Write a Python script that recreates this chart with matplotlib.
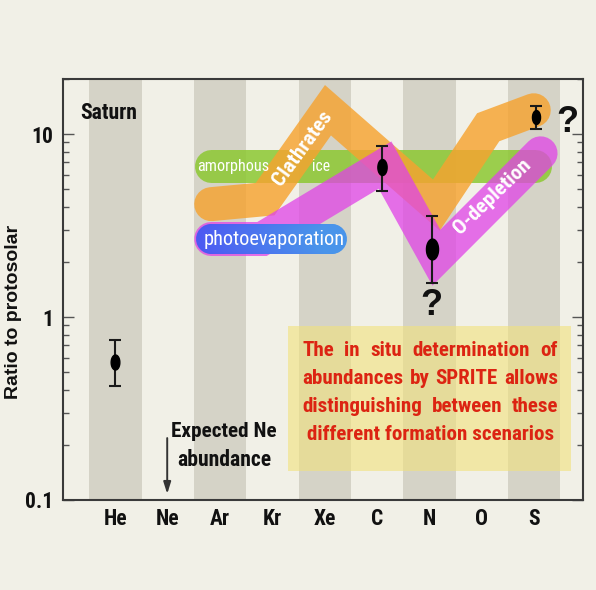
import os
import numpy as np
import matplotlib
matplotlib.use("Agg")
import matplotlib.pyplot as plt
from matplotlib import font_manager
from matplotlib.font_manager import FontProperties
from matplotlib.path import Path
from matplotlib.patches import Rectangle
from matplotlib.collections import LineCollection
from matplotlib.transforms import IdentityTransform
from matplotlib.ticker import LogLocator, NullFormatter

elements = ["He", "Ne", "Ar", "Kr", "Xe", "C", "N", "O", "S"]

# Saturn measurements (ratio to protosolar) with lower / upper bounds
meas_pos = [0.0, 5.09, 6.04, 8.03]
meas_val = [0.57, 6.6, 2.34, 12.4]
meas_low = [0.42, 4.9, 1.54, 10.6]
meas_high = [0.75, 8.6, 3.56, 14.3]
meas_size = [10.8, 11.5, 15.0, 10.0]

# formation scenarios
amorphous_pos = [1.83, 8.02]
amorphous_val = [6.68, 6.68]
clathrate_pos = [1.83, 2.86, 4.06, 6.13, 7.12, 7.99]
clathrate_val = [4.14, 4.41, 13.5, 4.09, 10.9, 13.5]
odepletion_pos = [1.83, 2.8, 5.15, 6.13, 8.12]
odepletion_val = [2.67, 2.67, 6.77, 2.11, 7.85]
photoevap_pos = [1.83, 4.14]
photoevap_val = [2.67, 2.67]

y_ticks = [0.1, 1, 10]
y_tick_labels = ["0.1", "1", "10"]

note_lines = [
    "The in situ determination of",
    "abundances by SPRITE allows",
    "distinguishing between these",
    "different formation scenarios",
]


def find_font_file(names, keywords):
    files = sorted({f.fname for f in font_manager.fontManager.ttflist})
    base = {os.path.basename(f).lower(): f for f in files}
    for n in names:
        if n.lower() in base:
            return base[n.lower()]
    for f in files:
        b = os.path.basename(f).lower()
        if all(k in b for k in keywords[0]) and not any(k in b for k in keywords[1]):
            return f
    return None


NARROW_BOLD = find_font_file(
    ["LiberationSansNarrow-Bold.ttf", "ArialNarrowBold.ttf",
     "NotoSans-CondensedBold.ttf", "RobotoCondensed-Bold.ttf",
     "DejaVuSansCondensed-Bold.ttf", "OpenSans-CondBold.ttf"],
    (["condensedbold"], ["italic", "extra", "semi"]))
NARROW_REG = find_font_file(
    ["LiberationSansNarrow-Regular.ttf", "ArialNarrow.ttf",
     "NotoSans-Condensed.ttf", "RobotoCondensed-Regular.ttf",
     "DejaVuSansCondensed.ttf"],
    (["condensed"], ["italic", "bold", "extra", "semi", "light", "thin",
                     "medium", "black"]))


def narrow(bold=True):
    path = NARROW_BOLD if bold else NARROW_REG
    if path:
        return FontProperties(fname=path)
    return FontProperties(family=["Liberation Sans", "DejaVu Sans"],
                          weight="bold" if bold else "normal")


BG = "#f1f0e7"
BAND = "#d5d3c7"
INK = "#111111"
PX = 72 / 100  # points per pixel at 100 dpi

fig = plt.figure(figsize=(5.96, 5.90), dpi=100, facecolor=BG)
ax = fig.add_axes([63 / 596, 90 / 590, 520 / 596, 421 / 590])
ax.set_facecolor(BG)
ax.set_yscale("log")
ax.set_xlim(-1, 8.93)
ax.set_ylim(0.1, 20)
renderer = fig.canvas.get_renderer()


def fit_width(txt, width_px, rotation=0):
    """Scale a label's font so its unrotated width spans width_px pixels."""
    w = txt.get_window_extent(renderer).width
    if w > 0:
        txt.set_fontsize(txt.get_fontsize() * width_px / w)
    if rotation:
        txt.set_rotation(rotation)
    return txt


# alternating element columns
for i in range(0, len(elements), 2):
    ax.axvspan(i - 0.5, i + 0.5, color=BAND, lw=0, zorder=0)

# scenario bands
band_kw = dict(solid_capstyle="round", solid_joinstyle="miter")
ax.plot(amorphous_pos, amorphous_val, color="#8cc832", alpha=0.85,
        lw=33 * PX, zorder=2, **band_kw)
ax.plot(clathrate_pos, clathrate_val, color="#f6a330", alpha=0.82,
        lw=34 * PX, zorder=3, **band_kw)
ax.plot(odepletion_pos, odepletion_val, color="#e043e7", alpha=0.75,
        lw=34 * PX, zorder=4, **band_kw)

# photoevaporation band with a blue gradient
n_seg = 80
xs = np.linspace(photoevap_pos[0], photoevap_pos[1], n_seg + 1)
ys = np.interp(xs, photoevap_pos, photoevap_val)
segs = [[(xs[k], ys[k]), (xs[k + 1], ys[k + 1])] for k in range(n_seg)]
c0 = np.array(matplotlib.colors.to_rgb("#4d5af2"))
c1 = np.array(matplotlib.colors.to_rgb("#4994ea"))
t = np.linspace(0, 1, n_seg)[:, None]
cols = c0 * (1 - t) + c1 * t
lc = LineCollection(segs, colors=cols, linewidths=30 * PX, capstyle="round",
                    zorder=5)
ax.add_collection(lc)

# band labels
fit_width(ax.text(1.57, amorphous_val[0], "amorphous", ha="left", va="center",
                  color="white", fontproperties=narrow(False), fontsize=13,
                  zorder=7), 72)
fit_width(ax.text(3.93, amorphous_val[0], "ice", ha="center", va="center",
                  color="white", fontproperties=narrow(False), fontsize=13,
                  zorder=7), 18)
fit_width(ax.text(3.57, 8.4, "Clathrates", ha="center", va="center",
                  color="white", fontproperties=narrow(True), fontsize=15,
                  rotation_mode="anchor", zorder=7), 88, rotation=54)
fit_width(ax.text(3.03, photoevap_val[0], "photoevaporation", ha="center",
                  va="center", color="white", fontproperties=narrow(False),
                  fontsize=15, zorder=7), 141)
fit_width(ax.text(7.19, 4.55, "O-depletion", ha="center", va="center",
                  color="white", fontproperties=narrow(True), fontsize=15,
                  rotation_mode="anchor", zorder=7), 100, rotation=44)

# measurements
theta = np.linspace(0, 2 * np.pi, 64)
ellipse = Path(np.column_stack([0.58 * np.cos(theta), np.sin(theta)]))
meas_val_a = np.array(meas_val)
yerr = [meas_val_a - np.array(meas_low), np.array(meas_high) - meas_val_a]
ax.errorbar(meas_pos, meas_val, yerr=yerr, fmt="none", ecolor="#1a1a1a",
            elinewidth=1.5, capsize=4.3, capthick=1.5, zorder=8)
for xp, yp, sz in zip(meas_pos, meas_val, meas_size):
    ax.plot([xp], [yp], marker=ellipse, markersize=sz, color="black",
            lw=0, zorder=9)

# annotations
fit_width(ax.text(-0.67, 13.0, "Saturn", ha="left", va="center",
                  fontproperties=narrow(True), fontsize=15, color=INK,
                  zorder=10), 57)
ax.text(8.63, 11.6, "?", ha="center", va="center", fontsize=26,
        family=["Liberation Sans", "DejaVu Sans"], fontweight="bold",
        color=INK, zorder=10)
ax.text(6.03, 1.16, "?", ha="center", va="center", fontsize=26,
        family=["Liberation Sans", "DejaVu Sans"], fontweight="bold",
        color=INK, zorder=10)
fit_width(ax.text(2.08, 0.238, "Expected Ne", ha="center", va="center",
                  fontproperties=narrow(True), fontsize=15, color=INK,
                  zorder=10), 106)
fit_width(ax.text(2.08, 0.165, "abundance", ha="center", va="center",
                  fontproperties=narrow(True), fontsize=15, color=INK,
                  zorder=10), 94)
ax.annotate("", xy=(0.99, 0.108), xytext=(0.99, 0.218),
            arrowprops=dict(arrowstyle="-|>,head_length=0.7,head_width=0.22",
                            color="#333333", lw=1.4, shrinkA=0, shrinkB=0),
            zorder=10)

# highlighted note
box_x = (3.30, 8.70)
box_y = (0.144, 0.893)
ax.add_patch(Rectangle((box_x[0], box_y[0]), box_x[1] - box_x[0],
                       box_y[1] - box_y[0], facecolor="#f1e27c", alpha=0.6,
                       lw=0, zorder=6))

# axes styling
ax.set_yticks(y_ticks)
ax.set_yticklabels(y_tick_labels)
ax.yaxis.set_minor_locator(LogLocator(base=10, subs=np.arange(2, 10)))
ax.yaxis.set_minor_formatter(NullFormatter())
ax.set_xticks(range(len(elements)))
ax.set_xticklabels(elements)
ax.tick_params(axis="x", length=0, pad=6)
ax.tick_params(axis="y", which="both", direction="in", left=True, right=True,
               color="#555555", width=1.0, pad=7)
ax.tick_params(axis="y", which="major", length=8)
ax.tick_params(axis="y", which="minor", length=4)
for lab in ax.get_xticklabels() + ax.get_yticklabels():
    lab.set_fontproperties(narrow(True))
    lab.set_fontsize(15.5)
    lab.set_color(INK)
for s in ax.spines.values():
    s.set_color("#3a3a3a")
    s.set_linewidth(1.5)

ax.set_ylabel("Ratio to protosolar", family=["Liberation Sans", "DejaVu Sans"],
              fontweight="bold", fontsize=14, color=INK)
ax.yaxis.set_label_coords(-0.079, 0.447)

# justified note text, laid out in display pixels inside the box
fig.canvas.draw()
(bx0, by0) = ax.transData.transform((box_x[0], box_y[0]))
(bx1, by1) = ax.transData.transform((box_x[1], box_y[1]))
left, right = bx0 + 14, bx1 - 13
top = by1 - 24
step = 28
probe = fig.text(0, 0, note_lines[1], fontproperties=narrow(True),
                 fontsize=16)
natural = probe.get_window_extent(renderer).width
probe.remove()
note_size = 16 * 0.985 * (right - left) / natural

note_kw = dict(fontproperties=narrow(True), fontsize=note_size,
               color="#dc2412", va="center", transform=IdentityTransform(),
               zorder=11)
for li, line in enumerate(note_lines):
    yline = top - li * step
    if li == len(note_lines) - 1:
        fig.text((left + right) / 2, yline, line, ha="center", **note_kw)
        continue
    words = line.split()
    texts = [fig.text(0, yline, w, ha="left", **note_kw) for w in words]
    widths = [tx.get_window_extent(renderer).width for tx in texts]
    gap = (right - left - sum(widths)) / (len(words) - 1)
    xcur = left
    for tx, w in zip(texts, widths):
        tx.set_position((xcur, yline))
        xcur += w + gap

fig.savefig("out.png", dpi=100, facecolor=BG)
